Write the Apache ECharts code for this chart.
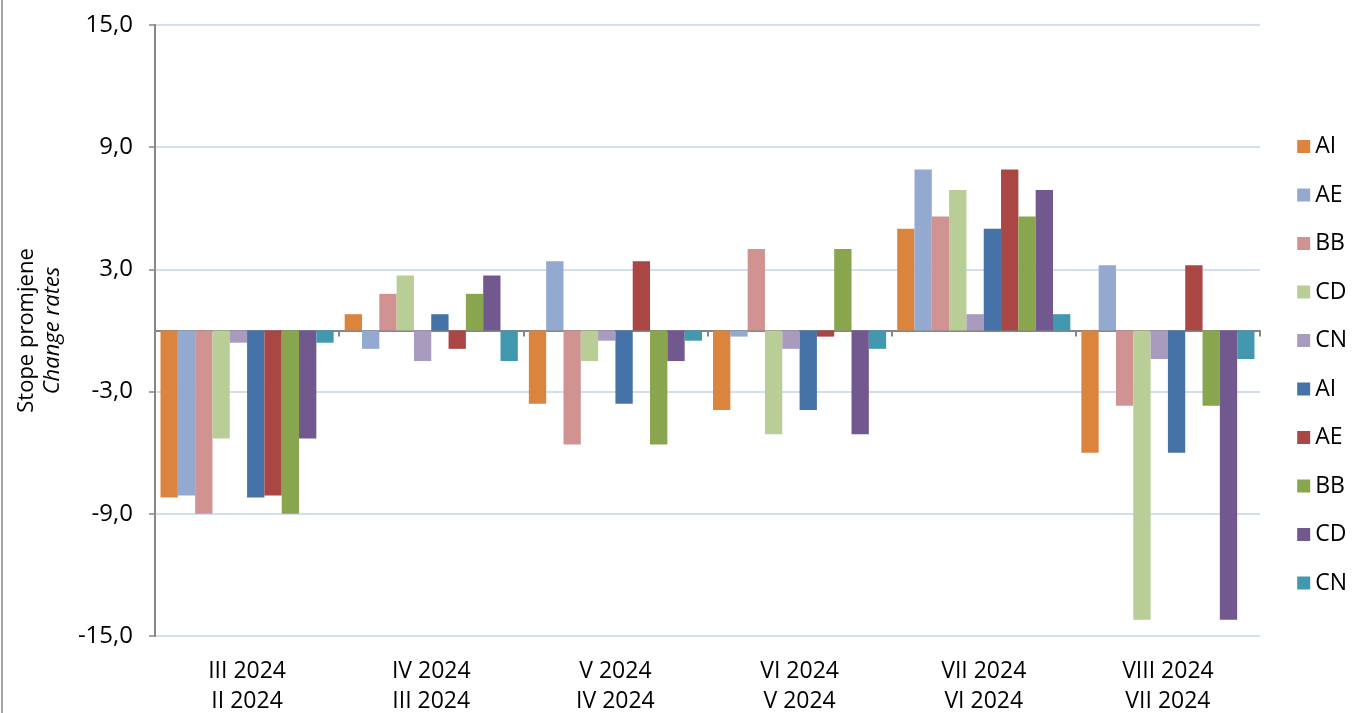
<!DOCTYPE html>
<html>
<head>
<meta charset="utf-8">
<script src="https://cdn.jsdelivr.net/npm/echarts@6/dist/echarts.min.js"></script>
<style>
html,body{margin:0;padding:0;background:#fff;}
#chart{width:1352px;height:713px;}
</style>
</head>
<body>
<div id="chart"></div>
<script>
var categories = ['III 2024\nII 2024', 'IV 2024\nIII 2024', 'V 2024\nIV 2024', 'VI 2024\nV 2024', 'VII 2024\nVI 2024', 'VIII 2024\nVII 2024'];
var seriesNames = ['AI', 'AE', 'BB', 'CD', 'CN', 'AI', 'AE', 'BB', 'CD', 'CN'];
var seriesColors = ['#DB843D', '#93A9CF', '#D19392', '#B9CD96', '#A99BBD', '#4572A7', '#AA4643', '#89A54E', '#71588F', '#4198AF'];
var valsAI1 = [-8.2, 0.8, -3.6, -3.9, 5.0, -6.0];
var valsAE1 = [-8.1, -0.9, 3.4, -0.3, 7.9, 3.2];
var valsBB1 = [-9.0, 1.8, -5.6, 4.0, 5.6, -3.7];
var valsCD1 = [-5.3, 2.7, -1.5, -5.1, 6.9, -14.2];
var valsCN1 = [-0.6, -1.5, -0.5, -0.9, 0.8, -1.4];
var valsAI2 = [-8.2, 0.8, -3.6, -3.9, 5.0, -6.0];
var valsAE2 = [-8.1, -0.9, 3.4, -0.3, 7.9, 3.2];
var valsBB2 = [-9.0, 1.8, -5.6, 4.0, 5.6, -3.7];
var valsCD2 = [-5.3, 2.7, -1.5, -5.1, 6.9, -14.2];
var valsCN2 = [-0.6, -1.5, -0.5, -0.9, 0.8, -1.4];
var yMin = -15, yMax = 15, yStep = 6;
var yTitle1 = 'Stope promjene';
var yTitle2 = 'Change rates';

var allVals = [valsAI1, valsAE1, valsBB1, valsCD1, valsCN1, valsAI2, valsAE2, valsBB2, valsCD2, valsCN2];
var FONT = 'Open Sans';
var series = allVals.map(function (v, i) {
  return {
    type: 'bar',
    name: seriesNames[i] + (i >= 5 ? '_2' : ''),
    xAxisIndex: 0,
    data: v,
    barGap: '0%',
    barCategoryGap: '6%',
    itemStyle: { color: seriesColors[i] },
    emphasis: { disabled: true }
  };
});

var chart = echarts.init(document.getElementById('chart'), null, { renderer: 'canvas' });
chart.setOption({
  animation: false,
  backgroundColor: '#ffffff',
  textStyle: { fontFamily: FONT },
  grid: { left: 155, right: 92, top: 25, bottom: 77, containLabel: false, outerBoundsMode: 'none' },
  legend: {
    orient: 'vertical',
    right: 0,
    top: 130,
    itemGap: 25.5,
    itemWidth: 13,
    itemHeight: 13,
    icon: 'rect',
    data: series.map(function (s) { return s.name; }),
    formatter: function (n) { return n.replace('_2', ''); },
    textStyle: { fontSize: 23, color: '#000', fontFamily: FONT, width: 36 }
  },
  xAxis: [
    {
      type: 'category',
      data: categories,
      position: 'bottom',
      axisLine: { show: false, onZero: false },
      axisTick: { show: false },
      axisLabel: { fontSize: 23, color: '#000', fontFamily: FONT, lineHeight: 30, margin: 20 },
      splitLine: { show: false }
    },
    {
      type: 'category',
      data: categories,
      position: 'top',
      axisLine: { show: true, onZero: true, lineStyle: { color: '#868686', width: 2 } },
      axisTick: { show: true, inside: true, length: 6, lineStyle: { color: '#868686', width: 2 } },
      axisLabel: { show: false },
      splitLine: { show: false }
    }
  ],
  yAxis: {
    type: 'value',
    min: yMin,
    max: yMax,
    interval: yStep,
    name: '{a|' + yTitle1 + '}\n{b|' + yTitle2 + '}',
    nameLocation: 'middle',
    nameGap: 89,
    nameTextStyle: {
      rich: {
        a: { fontSize: 22, fontFamily: FONT, color: '#000', lineHeight: 26 },
        b: { fontSize: 22, fontFamily: FONT, color: '#000', fontStyle: 'italic', lineHeight: 26 }
      }
    },
    axisLine: { show: true, lineStyle: { color: '#868686', width: 2 } },
    axisTick: { show: true, length: 6, lineStyle: { color: '#868686', width: 1.5 } },
    axisLabel: {
      fontSize: 24, color: '#000', fontFamily: FONT, margin: 22,
      formatter: function (v) { return v.toFixed(1).replace('.', ','); }
    },
    splitLine: { show: true, lineStyle: { color: '#c5d4e8', width: 1.5 } }
  },
  graphic: [
    { type: 'line', shape: { x1: 2, y1: 0, x2: 2, y2: 713 }, style: { stroke: '#8a8a8a', lineWidth: 1.5 } }
  ],
  series: series
});
</script>
</body>
</html>
